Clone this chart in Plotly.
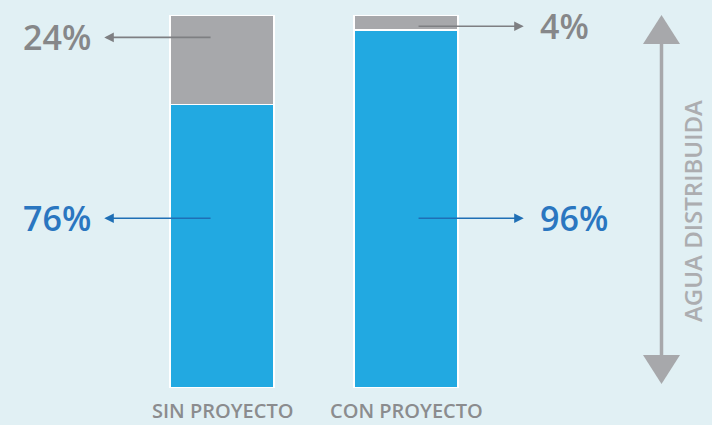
import plotly.graph_objects as go

categories = ["SIN PROYECTO", "CON PROYECTO"]
distribuida = [76, 96]
perdida = [24, 4]
label_dist = ["76%", "96%"]
label_perd = ["24%", "4%"]

BG = "#e1f0f4"
BLUE = "#22a9e1"
GRAY = "#a7a8ab"
FONT = "Open Sans"

W, H = 712, 425
ML, MR, MT, MB = 0, 0, 15, 37
xpos = list(range(len(categories)))
# x scale: category 0 centre at 222px, category 1 at 406px
px_per_unit = 184.0
x0_px = 222.0
xr = [(0 - x0_px) / px_per_unit, (W - x0_px) / px_per_unit]

fig = go.Figure()
fig.add_trace(go.Bar(x=xpos, y=distribuida, marker=dict(color=BLUE, line=dict(color="white", width=1.5)),
                     width=0.565, hoverinfo="skip"))
fig.add_trace(go.Bar(x=xpos, y=perdida, marker=dict(color=GRAY, line=dict(color="white", width=1.5)),
                     width=0.565, hoverinfo="skip"))

ann = []
lab_y_gray = [94, 97]
lab_y_blue = [45.5, 45.5]
for i in xpos:
    side = -1 if i == 0 else 1
    tail = i - 0.054 if i == 0 else i + 0.06
    head = i + side * 0.64
    txt_x = i - 0.70 if i == 0 else i + 0.72
    for ly, lab, lcol, tcol in [(lab_y_gray[i], label_perd[i], "#7e7f82", "#868789"),
                                (lab_y_blue[i], label_dist[i], "#1f6fb5", "#2a76c0")]:
        ann.append(dict(x=head, y=ly, ax=tail, ay=ly, xref="x", yref="y", axref="x", ayref="y",
                        text="", showarrow=True, arrowhead=2, arrowsize=1.2, arrowwidth=1.6,
                        arrowcolor=lcol))
        ann.append(dict(x=txt_x, y=ly, xref="x", yref="y", text=lab, showarrow=False,
                        xanchor="right" if i == 0 else "left", yanchor="middle",
                        font=dict(family=FONT, size=34, color=tcol, weight=600)))
    ann.append(dict(x=i, y=0, xref="x", yref="y", text=categories[i], showarrow=False,
                    xanchor="center", yanchor="top", yshift=-7,
                    font=dict(family=FONT, size=20, color="#8b8c8e", weight=600)))

# vertical axis label
ann.append(dict(x=692 / W, y=(388 - 211) / 373, xref="paper", yref="paper", text="AGUA DISTRIBUIDA",
                textangle=-90, showarrow=False, xanchor="center", yanchor="middle",
                font=dict(family=FONT, size=24, color="#acadb0", weight=600)))

def px(xp):
    return xp / W

def py(yp):
    return (388 - yp) / 373

shapes = [
    dict(type="line", xref="paper", yref="paper", x0=px(661.5), x1=px(661.5), y0=py(42), y1=py(356),
         line=dict(color=GRAY, width=3.5)),
    dict(type="path", xref="paper", yref="paper",
         path=f"M {px(661.5)},{py(15)} L {px(643)},{py(44)} L {px(680)},{py(44)} Z",
         fillcolor=GRAY, line=dict(width=0)),
    dict(type="path", xref="paper", yref="paper",
         path=f"M {px(661.5)},{py(384)} L {px(643)},{py(355)} L {px(680)},{py(355)} Z",
         fillcolor=GRAY, line=dict(width=0)),
]

fig.update_layout(
    width=W, height=H, barmode="stack", showlegend=False,
    margin=dict(l=ML, r=MR, t=MT, b=MB, pad=0),
    paper_bgcolor=BG, plot_bgcolor=BG,
    xaxis=dict(range=xr, visible=False, fixedrange=True),
    yaxis=dict(range=[0, 100], visible=False, fixedrange=True),
    annotations=ann, shapes=shapes,
)
fig.write_html("out.html")
